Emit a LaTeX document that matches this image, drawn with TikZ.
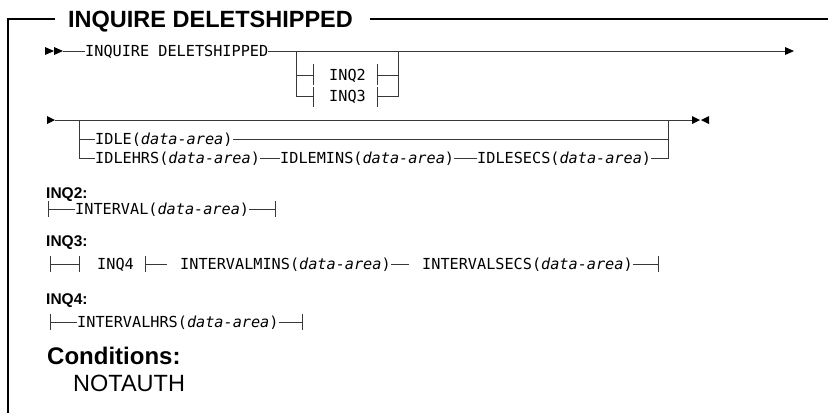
\documentclass[tikz,border=0pt]{standalone}
\usepackage{fontspec}
\setmainfont{Liberation Sans}
\newfontfamily\monof{DejaVu Sans Mono}
\newcommand\darea{\textit{data-area}}
\begin{document}
\begin{tikzpicture}[x=1pt,y=-1pt,
  rr/.style={line width=1pt,draw=black!78},
  frame/.style={line width=1.6pt,draw=black},
  tipf/.style={fill=black},
  mono/.style={font=\monof\fontsize{15.2}{18}\selectfont,inner sep=0pt,anchor=west,text height=11pt,text depth=0pt},
  title/.style={font=\bfseries\fontsize{23.5}{26}\selectfont,inner sep=0pt,anchor=base west},
  lab/.style={font=\bfseries\fontsize{15.5}{17}\selectfont,inner sep=0pt,anchor=base west},
  cond/.style={font=\bfseries\fontsize{24}{26}\selectfont,inner sep=0pt,anchor=base west},
  condv/.style={font=\fontsize{23.5}{26}\selectfont,inner sep=0pt,anchor=base west}]
\useasboundingbox (0,0) rectangle (828,413);
% frame and title
\node[title] (title) at (68,27) {INQUIRE DELETSHIPPED};
\draw[frame] (8,413) -- (8,19) -- (55,19);
\draw[frame] (370,19) -- (828,19);
% ---------- row 1
\fill[tipf] (45,47) -- (54,51) -- (45,55) -- cycle;
\fill[tipf] (54,47) -- (63,51) -- (54,55) -- cycle;
\coordinate (r1a) at (63,51);
\node[mono] (inq) at (85,51) {INQUIRE DELETSHIPPED};
\coordinate (r1e) at (785,51);
\draw[rr] (r1a) -- (inq.west);
\draw[rr] (inq.east) -- (r1e);
\fill[tipf] (785,47) -- (794,51) -- (785,55) -- cycle;
\node[mono] (inq2) at (329,75) {INQ2};
\node[mono] (inq3) at (329,96) {INQ3};
\coordinate (b1l) at (296,51);
\coordinate (b1r) at (398,51);
\draw[rr] (b1l) -- (296,96) -- (313,96);
\draw[rr] (296,75) -- (313,75);
\draw[rr] (313,64) -- (313,85);
\draw[rr] (313,86.5) -- (313,107);
\draw[rr] (b1r) -- (398,96) -- (377,96);
\draw[rr] (398,75) -- (377,75);
\draw[rr] (377,64) -- (377,85);
\draw[rr] (377,86.5) -- (377,107);
% ---------- row 2
\fill[tipf] (47,116) -- (55,120) -- (47,124) -- cycle;
\coordinate (r2a) at (55,120);
\coordinate (r2e) at (692,120);
\draw[rr] (r2a) -- (r2e);
\fill[tipf] (692,116) -- (700,120) -- (692,124) -- cycle;
\fill[tipf] (709,116) -- (701,120) -- (709,124) -- cycle;
\node[mono] (idle) at (95,139) {IDLE(\darea)};
\node[mono] (idlehrs) at (95,158) {IDLEHRS(\darea)};
\node[mono] (idlemins) at (280,158) {IDLEMINS(\darea)};
\node[mono] (idlesecs) at (477,158) {IDLESECS(\darea)};
\coordinate (b2l) at (79,120);
\coordinate (b2r) at (668,120);
\draw[rr] (b2l) -- (b2l |- idlehrs.west) -- (idlehrs.west);
\draw[rr] (b2l |- idle.west) -- (idle.west);
\draw[rr] (idle.east) -- (b2r |- idle.east);
\draw[rr] (b2r) -- (b2r |- idlesecs.east) -- (idlesecs.east);
\draw[rr] (idlehrs.east) -- (idlemins.west);
\draw[rr] (idlemins.east) -- (idlesecs.west);
% ---------- INQ2
\node[lab] (l2) at (46,198) {INQ2:};
\node[mono] (interval) at (75,209) {INTERVAL(\darea)};
\coordinate (q2a) at (48,209);
\coordinate (q2b) at (275,209);
\draw[rr] (48,201) -- (48,217);
\draw[rr] (q2a) -- (interval.west);
\draw[rr] (interval.east) -- (q2b);
\draw[rr] (275,201) -- (275,217);
% ---------- INQ3
\node[lab] (l3) at (46,246) {INQ3:};
\node[mono] (inq4) at (97,264) {INQ4};
\node[mono] (imins) at (180,264) {INTERVALMINS(\darea)};
\node[mono] (isecs) at (422,264) {INTERVALSECS(\darea)};
\draw[rr] (50,256) -- (50,272);
\draw[rr] (50,264) -- (79,264);
\draw[rr] (79,256) -- (79,272);
\draw[rr] (145,256) -- (145,272);
\draw[rr] (145,264) -- (167,264);
\draw[rr] (imins.east) -- (409,264);
\coordinate (q3b) at (658,264);
\draw[rr] (isecs.east) -- (q3b);
\draw[rr] (658,256) -- (658,272);
% ---------- INQ4
\node[lab] (l4) at (46,304) {INQ4:};
\node[mono] (ihrs) at (77,322) {INTERVALHRS(\darea)};
\draw[rr] (50,314) -- (50,330);
\draw[rr] (50,322) -- (ihrs.west);
\coordinate (q4b) at (302,322);
\draw[rr] (ihrs.east) -- (q4b);
\draw[rr] (302,314) -- (302,330);
% ---------- conditions
\node[cond] (cond) at (47,364) {Conditions:};
\node[condv] (nota) at (73,391) {NOTAUTH};
\end{tikzpicture}
\end{document}
